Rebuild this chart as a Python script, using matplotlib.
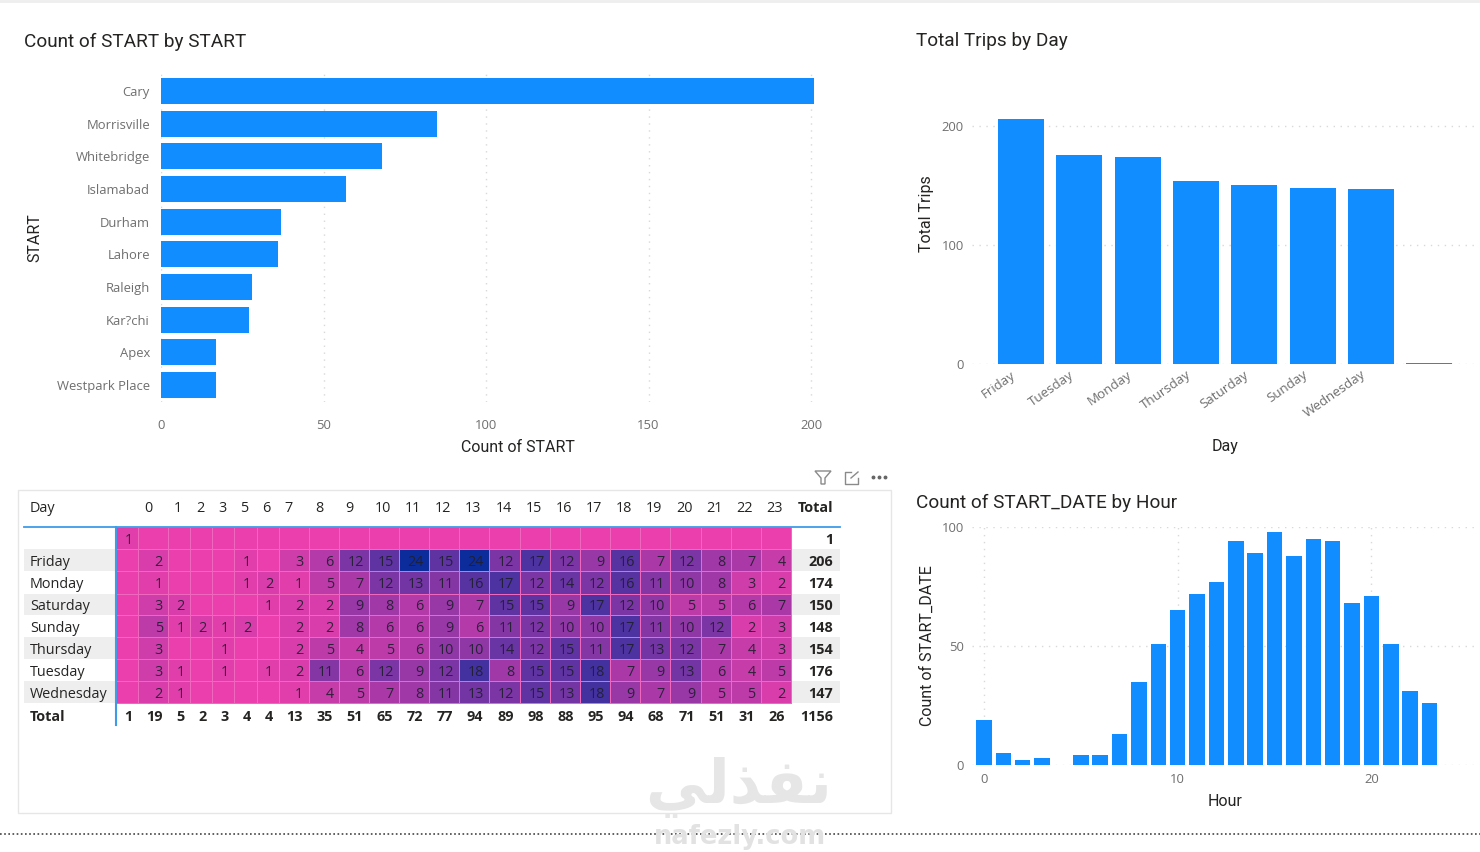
#!/usr/bin/env python3
"""Trips dashboard: bars by start, by day, by hour, plus the day/hour matrix."""
import numpy as np
import matplotlib
matplotlib.use('Agg')
import matplotlib.pyplot as plt
from matplotlib.colors import LinearSegmentedColormap
from matplotlib.patches import Rectangle, Polygon

plt.rcParams['font.family'] = ['Open Sans', 'DejaVu Sans']

W, H = 1480, 852

# data
START_NAMES = ['Cary', 'Morrisville', 'Whitebridge', 'Islamabad', 'Durham',
               'Lahore', 'Raleigh', 'Kar?chi', 'Apex', 'Westpark Place']
START_COUNTS = [201, 85, 68, 57, 37, 36, 28, 27, 17, 17]

DAY_NAMES = ['Friday', 'Tuesday', 'Monday', 'Thursday', 'Saturday', 'Sunday',
             'Wednesday', '']
DAY_TRIPS = [206, 176, 174, 154, 150, 148, 147, 1]

HOURS = [0, 1, 2, 3, 5, 6, 7, 8, 9, 10, 11, 12, 13, 14, 15, 16, 17, 18, 19, 20,
         21, 22, 23]
HOUR_COUNTS = [19, 5, 2, 3, 4, 4, 13, 35, 51, 65, 72, 77, 94, 89, 98, 88, 95,
               94, 68, 71, 51, 31, 26]

# matrix: first column is the blank hour, 0 means an empty cell
MATRIX_ROWS = ['', 'Friday', 'Monday', 'Saturday', 'Sunday', 'Thursday',
               'Tuesday', 'Wednesday']
MATRIX = [
    [1, 0, 0, 0, 0, 0, 0, 0, 0, 0, 0, 0, 0, 0, 0, 0, 0, 0, 0, 0, 0, 0, 0, 0],
    [0, 2, 0, 0, 0, 1, 0, 3, 6, 12, 15, 24, 15, 24, 12, 17, 12, 9, 16, 7, 12, 8, 7, 4],
    [0, 1, 0, 0, 0, 1, 2, 1, 5, 7, 12, 13, 11, 16, 17, 12, 14, 12, 16, 11, 10, 8, 3, 2],
    [0, 3, 2, 0, 0, 0, 1, 2, 2, 9, 8, 6, 9, 7, 15, 15, 9, 17, 12, 10, 5, 5, 6, 7],
    [0, 5, 1, 2, 1, 2, 0, 2, 2, 8, 6, 6, 9, 6, 11, 12, 10, 10, 17, 11, 10, 12, 2, 3],
    [0, 3, 0, 0, 1, 0, 0, 2, 5, 4, 5, 6, 10, 10, 14, 12, 15, 11, 17, 13, 12, 7, 4, 3],
    [0, 3, 1, 0, 1, 0, 1, 2, 11, 6, 12, 9, 12, 18, 8, 15, 15, 18, 7, 9, 13, 6, 4, 5],
    [0, 2, 1, 0, 0, 0, 0, 1, 4, 5, 7, 8, 11, 13, 12, 15, 13, 18, 9, 7, 9, 5, 5, 2],
]
ROW_TOTALS = [1, 206, 174, 150, 148, 154, 176, 147]
COL_TOTALS = [1, 19, 5, 2, 3, 4, 4, 13, 35, 51, 65, 72, 77, 94, 89, 98, 88, 95,
              94, 68, 71, 51, 31, 26]
GRAND_TOTAL = 1156

# styles
BLUE = '#118DFF'
INK = '#252423'
GRAY = '#6F6F6F'
GRID = '#D9D9D9'
TITLE_FONT = ['Roboto', 'DejaVu Sans']

# pixel edges of the matrix cells
COL_EDGES = [116, 138.3, 168.3, 190.3, 212.3, 234.3, 256.7, 278.7, 308.7, 339.3,
             369.3, 399.3, 429.3, 459.3, 489.3, 520, 550.3, 580.3, 610.3, 640.3,
             670.3, 700.7, 731, 761, 791]
ROW_EDGES = [527.3, 549.3, 571.3, 593.5, 615.3, 637.3, 659.3, 681.3, 703.3]
TOTAL_RIGHT = 833


def px_axes(fig, left, top, right, bottom):
    return fig.add_axes([left / W, 1 - bottom / H, (right - left) / W, (bottom - top) / H])


def style_axes(ax, axis):
    for spine in ax.spines.values():
        spine.set_visible(False)
    ax.set_axisbelow(True)
    ax.grid(True, axis=axis, color=GRID, lw=1, ls=(0, (1, 4)))
    ax.tick_params(length=0, labelcolor=GRAY, labelsize=9.4)


fig = plt.figure(figsize=(W / 100, H / 100), dpi=100, facecolor='white')

# --- hbar ---
ax1 = px_axes(fig, 161, 70, 826, 402)
ax1.barh(range(len(START_NAMES)), START_COUNTS, height=0.8, color=BLUE)
ax1.set_xlim(0, 204.6)
ax1.set_ylim(9.52, -0.643)
ax1.set_xticks([0, 50, 100, 150, 200])
ax1.set_yticks(range(len(START_NAMES)), START_NAMES)
style_axes(ax1, 'x')
ax1.tick_params(axis='y', pad=8)
ax1.tick_params(axis='x', pad=12)

# --- by day ---
ax2 = px_axes(fig, 972, 100, 1476, 364)
ax2.bar(range(len(DAY_NAMES)), DAY_TRIPS, width=0.785, color=BLUE)
ax2.set_xlim(-0.84, 7.80)
ax2.set_ylim(0, 221.8)
ax2.set_yticks([0, 100, 200])
ax2.set_xticks([])
style_axes(ax2, 'y')
ax2.tick_params(axis='y', pad=6)
for i, name in enumerate(DAY_NAMES):
    ax2.annotate(name, (i, 0), xytext=(-7.5, -3), textcoords='offset points',
                 rotation=35, rotation_mode='anchor', ha='right', va='top',
                 fontsize=9.6, color=GRAY, annotation_clip=False)

# --- by hour ---
ax3 = px_axes(fig, 972, 527, 1476, 765)
ax3.bar(HOURS, HOUR_COUNTS, width=0.8, color=BLUE)
ax3.set_xlim(-0.62, 25.4)
ax3.set_ylim(0, 100)
ax3.set_xticks([0, 10, 20])
ax3.set_yticks([0, 50, 100])
style_axes(ax3, 'both')
ax3.tick_params(axis='y', pad=6)
ax3.tick_params(axis='x', pad=6)

# --- overlay in pixel coordinates ---
ov = fig.add_axes([0, 0, 1, 1], zorder=-1)
ov.set_xlim(0, W)
ov.set_ylim(H, 0)
ov.axis('off')
ov2 = fig.add_axes([0, 0, 1, 1], zorder=5)
ov2.set_xlim(0, W)
ov2.set_ylim(H, 0)
ov2.axis('off')
ov2.patch.set_alpha(0)

# titles and axis names
for x, y, s in [(24, 41.5, 'Count of START by START'), (916, 41.5, 'Total Trips by Day'),
                (916, 502.5, 'Count of START_DATE by Hour')]:
    ov2.text(x, y, s, fontsize=13.65, color=INK, va='center', family=TITLE_FONT)
for x, y, s, rot in [(518, 447, 'Count of START', 0), (35, 238, 'START', 90),
                     (1225, 446, 'Day', 0), (927, 214, 'Total Trips', 90),
                     (1225, 801, 'Hour', 0), (927, 646, 'Count of START_DATE', 90)]:
    ov2.text(x, y, s, fontsize=11.5, color=INK, ha='center', va='center',
             rotation=rot, family=TITLE_FONT)

# watermark goes under everything
ov.text(739, 788, '\uFEF2\uFEDF\uFEAC\uFED4\uFEE7', fontsize=44, fontweight='bold',
        color='#E6E6E6', ha='center', va='center', family=['DejaVu Sans'])
ov.text(740, 837, 'nafezly.com', fontsize=18.5, fontweight='bold', color='#E2E2E2',
        ha='center', va='center', family=['DejaVu Sans'])

# matrix frame, page rules
ov.add_patch(Rectangle((18, 490), 873, 323, fc='none', ec='#E6E6E6', lw=1))
ov.plot([0, W], [834, 834], color='#444444', lw=1.2, ls=(0, (1, 1.5)))
ov.plot([0, W], [0.5, 0.5], color='#EEEEEE', lw=2)

# row bands
for r, name in enumerate(MATRIX_ROWS):
    if r % 2 == 1:
        ov2.add_patch(Rectangle((24, ROW_EDGES[r]), 91, ROW_EDGES[r + 1] - ROW_EDGES[r],
                                fc='#EEEEEE', ec='none'))
        ov2.add_patch(Rectangle((791, ROW_EDGES[r]), 49, ROW_EDGES[r + 1] - ROW_EDGES[r],
                                fc='#EEEEEE', ec='none'))

# heat cells
cmap = LinearSegmentedColormap.from_list('pink_blue', ['#EA3FAC', '#0D2C9C'])
ov2.pcolormesh(COL_EDGES, ROW_EDGES, np.array(MATRIX), cmap=cmap, vmin=0, vmax=24,
               edgecolors='#F068BE', linewidth=0.6)

# rules of the matrix
ov2.plot([24, 840], [527, 527], color='#3E9BE8', lw=1.3)
ov2.plot([116, 116], [527, 725], color='#3E9BE8', lw=1.5)

TXT = dict(fontsize=10.4, va='center', color=INK)
ov2.text(30, 508, 'Day', **TXT)
for c, hour in enumerate(HOURS):
    left, right = COL_EDGES[c + 1], COL_EDGES[c + 2]
    wide_gap = right - left > 25 and hour < 10
    ov2.text(right - (16 if wide_gap else 8), 508, str(hour), ha='right', **TXT)
ov2.text(833, 508, 'Total', ha='right', fontweight='bold', **TXT)

for r, name in enumerate(MATRIX_ROWS):
    y = (ROW_EDGES[r] + ROW_EDGES[r + 1]) / 2
    ov2.text(30, y + 2, name, **TXT)
    for c, val in enumerate(MATRIX[r]):
        if val:
            ov2.text(COL_EDGES[c + 1] - 5.5, y + 2, str(val), ha='right', fontsize=10.4,
                     va='center', color='#1F1F2E', alpha=0.9)
    ov2.text(TOTAL_RIGHT, y + 2, str(ROW_TOTALS[r]), ha='right', fontweight='bold', **TXT)

ov2.text(30, 717, 'Total', fontweight='bold', **TXT)
for c, val in enumerate(COL_TOTALS):
    ov2.text(COL_EDGES[c + 1] - 6, 717, str(val), ha='right', fontweight='bold', **TXT)
ov2.text(TOTAL_RIGHT, 717, str(GRAND_TOTAL), ha='right', fontweight='bold', **TXT)

# visual header icons
ICON = '#8A8A8A'
ov2.add_patch(Polygon([(815, 471), (831, 471), (825, 478), (825, 484), (821, 484), (821, 478)],
                      closed=True, fc='none', ec=ICON, lw=1))
ov2.plot([851, 845, 845, 858, 858], [472, 472, 484, 484, 478], color=ICON, lw=1)
ov2.plot([851, 858], [478, 472], color=ICON, lw=1)
ov2.plot([873, 879, 885], [477, 477, 477], ls='none', marker='o', ms=1.8, color='#666666')

fig.savefig('out.png', dpi=100, facecolor='white')
plt.close(fig)
